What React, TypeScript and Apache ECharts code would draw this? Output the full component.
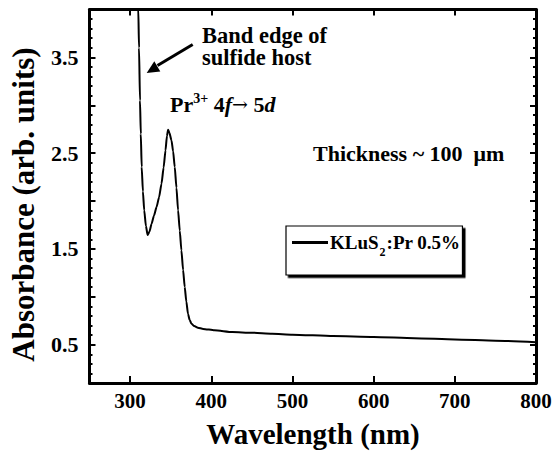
import React, { useEffect, useRef } from "react";
import * as echarts from "echarts";

const wavelength = [
  309.3, 310.1, 311, 312.2, 313.2, 314.3, 315.8, 317.4, 319.5, 321.6, 323.8,
  326.5, 329.5, 332.6, 335.7, 338.7, 341.3, 343.6, 345.4, 346.8, 348.5, 351.0,
  353.0, 355.0, 357.1, 359.1, 361.2, 363.2, 365.3, 367.3, 369.3, 371.3, 373.3,
  375.5, 379, 383.5, 390, 404, 426, 450, 475, 500, 550, 600, 650, 700, 750, 800,
];
const absorbance = [
  4.4, 4.0, 3.6, 3.05, 2.7, 2.355, 2.1, 1.903, 1.74, 1.645, 1.68, 1.764, 1.85,
  1.937, 2.04, 2.181, 2.35, 2.529, 2.68, 2.745, 2.71, 2.633, 2.52, 2.355, 2.14,
  1.903, 1.69, 1.486, 1.28, 1.102, 0.95, 0.824, 0.76, 0.72, 0.695, 0.678, 0.665,
  0.65, 0.632, 0.625, 0.615, 0.605, 0.59, 0.58, 0.568, 0.555, 0.542, 0.525,
];
const xTicks = [300, 400, 500, 600, 700, 800];
const yMajorTicks = [0.5, 1.0, 1.5, 2.0, 2.5, 3.0, 3.5];
const yLabels = [0.5, 1.5, 2.5, 3.5];
const yMinorTicks = [
  0.2, 0.3, 0.4, 0.6, 0.7, 0.8, 0.9, 1.1, 1.2, 1.3, 1.4, 1.6, 1.7, 1.8, 1.9,
  2.1, 2.2, 2.3, 2.4, 2.6, 2.7, 2.8, 2.9, 3.1, 3.2, 3.3, 3.4, 3.6, 3.7, 3.8, 3.9,
];
const seriesName = "KLuS2:Pr 0.5%";

const FONT = "'Liberation Serif', 'Times New Roman', serif";

export default function App() {
  const ref = useRef<HTMLDivElement>(null);
  useEffect(() => {
    document.body.style.margin = "0";
    if (!ref.current) return;
    const chart = echarts.init(ref.current, undefined, { renderer: "svg" });
    const lineAxis = { show: true, lineStyle: { color: "#000", width: 3 } };
    const yBase = (position: "left" | "right", ticks: number[], len: number, showLine: boolean, labels: boolean) => ({
      type: "value",
      position,
      min: 0.1,
      max: 4.0,
      splitLine: { show: false },
      axisLine: showLine ? lineAxis : { show: false },
      axisTick: {
        show: true,
        inside: true,
        length: len,
        customValues: ticks,
        lineStyle: { color: "#000", width: 2 },
      },
      axisLabel: labels
        ? {
            show: true,
            customValues: yLabels,
            formatter: (v: number) => v.toFixed(1),
            margin: 11,
            color: "#000",
            fontFamily: FONT,
            fontWeight: "bold",
            fontSize: 22,
          }
        : { show: false },
    });
    chart.setOption({
      animation: false,
      backgroundColor: "#fff",
      grid: { left: 89.5, right: 19, top: 9.5, bottom: 68, containLabel: false },
      xAxis: [
        {
          type: "value",
          position: "bottom",
          min: 250,
          max: 800,
          splitLine: { show: false },
          axisLine: lineAxis,
          axisTick: {
            show: true,
            inside: true,
            length: 7,
            customValues: xTicks,
            lineStyle: { color: "#000", width: 2 },
          },
          axisLabel: {
            show: true,
            customValues: xTicks,
            margin: 7,
            color: "#000",
            fontFamily: FONT,
            fontWeight: "bold",
            fontSize: 21,
          },
        },
        {
          type: "value",
          position: "top",
          min: 250,
          max: 800,
          splitLine: { show: false },
          axisLine: lineAxis,
          axisTick: {
            show: true,
            inside: true,
            length: 6,
            customValues: xTicks,
            lineStyle: { color: "#000", width: 2 },
          },
          axisLabel: { show: false },
        },
      ],
      yAxis: [
        yBase("left", yMajorTicks, 6, true, true),
        yBase("left", yMinorTicks, 3, false, false),
        yBase("right", yMajorTicks, 6, true, false),
        yBase("right", yMinorTicks, 3, false, false),
      ],
      legend: {
        show: true,
        left: 286,
        top: 226,
        orient: "vertical",
        padding: [7, 2, 17, 6],
        itemWidth: 36,
        itemHeight: 3,
        backgroundColor: "#fff",
        borderColor: "#000",
        borderWidth: 1.2,
        borderRadius: 0,
        shadowBlur: 0,
        shadowColor: "#000",
        shadowOffsetX: 2.5,
        shadowOffsetY: 2.5,
        itemStyle: { color: "#000", borderWidth: 0 },
        formatter: () => "KLuS{sub|2}:Pr 0.5%",
        textStyle: {
          color: "#000",
          fontFamily: FONT,
          fontWeight: "bold",
          fontSize: 19,
          padding: [0, 0, 0, -3],
          rich: {
            sub: {
              fontFamily: FONT,
              fontWeight: "bold",
              fontSize: 12,
              color: "#000",
              verticalAlign: "bottom",
              padding: [0, 1, -6, 1],
            },
          },
        },
        data: [{ name: seriesName, icon: "rect" }],
      },
      series: [
        {
          name: seriesName,
          type: "line",
          xAxisIndex: 0,
          yAxisIndex: 0,
          data: wavelength.map((w, i) => [w, absorbance[i]]),
          showSymbol: false,
          symbol: "none",
          smooth: 0.2,
          smoothMonotone: "x",
          clip: true,
          lineStyle: { color: "#000", width: 2 },
          itemStyle: { color: "#000" },
        },
      ],
      graphic: [
        {
          type: "text",
          x: 202,
          y: 35.5,
          style: {
            text: "Band edge of",
            fontFamily: FONT,
            fontWeight: "bold",
            fontSize: 22.5,
            fill: "#000",
            verticalAlign: "middle",
          },
        },
        {
          type: "text",
          x: 202,
          y: 57.5,
          style: {
            text: "sulfide host",
            fontFamily: FONT,
            fontWeight: "bold",
            fontSize: 22.5,
            fill: "#000",
            verticalAlign: "middle",
          },
        },
        {
          type: "text",
          x: 170,
          y: 104,
          style: {
            text: "{n|Pr}{sup|3+}{n| 4}{i|f}{a|\u2192}{n| 5}{i|d}",
            verticalAlign: "middle",
            rich: {
              n: { fontFamily: FONT, fontWeight: "bold", fontSize: 22, fill: "#000", lineHeight: 26 },
              i: { fontFamily: FONT, fontWeight: "bold", fontStyle: "italic", fontSize: 22, fill: "#000", lineHeight: 26 },
              a: { fontFamily: "'DejaVu Serif', serif", fontSize: 19, fill: "#000", lineHeight: 26 },
              sup: { fontFamily: FONT, fontWeight: "bold", fontSize: 14, fill: "#000", verticalAlign: "top", lineHeight: 14 },
            },
          },
        },
        {
          type: "text",
          x: 313,
          y: 153,
          style: {
            text: "Thickness ~ 100  \u03bcm",
            fontFamily: FONT,
            fontWeight: "bold",
            fontSize: 22,
            fill: "#000",
            verticalAlign: "middle",
          },
        },
        {
          type: "line",
          shape: { x1: 192.7, y1: 44.5, x2: 157.5, y2: 65.5 },
          style: { stroke: "#000", lineWidth: 3 },
        },
        {
          type: "polygon",
          shape: { points: [[146.7, 73], [160.3, 71.5], [154.3, 61.3]] },
          style: { fill: "#000" },
        },
        {
          type: "text",
          x: 313,
          y: 434,
          style: {
            text: "Wavelength (nm)",
            fontFamily: FONT,
            fontWeight: "bold",
            fontSize: 29,
            fill: "#000",
            align: "center",
            verticalAlign: "middle",
          },
        },
        {
          type: "text",
          x: 23.5,
          y: 204.5,
          rotation: Math.PI / 2,
          style: {
            text: "Absorbance (arb. units)",
            fontFamily: FONT,
            fontWeight: "bold",
            fontSize: 31,
            fill: "#000",
            align: "center",
            verticalAlign: "middle",
          },
        },
      ],
    });
    return () => chart.dispose();
  }, []);
  return (
    <div
      ref={ref}
      style={{ width: 555, height: 451, position: "fixed", left: 0, top: 0 }}
    />
  );
}
